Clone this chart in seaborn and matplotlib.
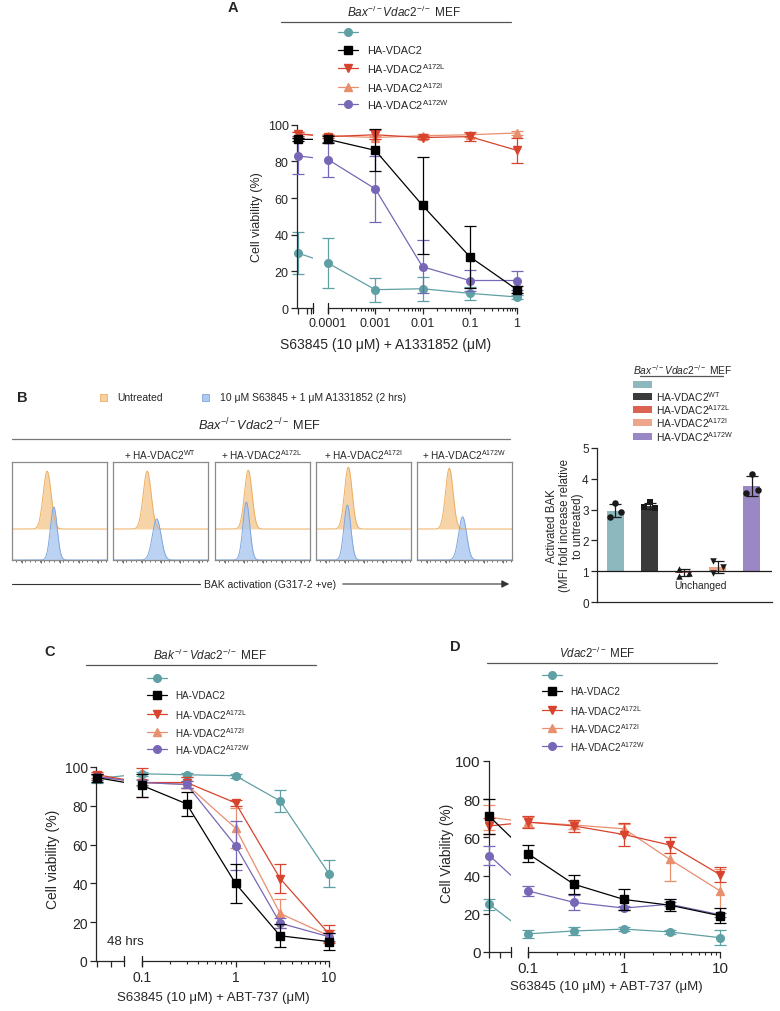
import numpy as np
import matplotlib
matplotlib.use('Agg')
import matplotlib.pyplot as plt
import matplotlib.transforms as mtransforms
import seaborn as sns
from matplotlib.lines import Line2D
from matplotlib.patches import Rectangle, FancyArrowPatch

# ---------------- data ----------------
# panel A: Bax-/-Vdac2-/- MEF, S63845 (10 uM) + A1331852
DOSE_A = [0, 0.0001, 0.001, 0.01, 0.1, 1]
A_EMPTY = [30, 24.5, 10, 10.5, 8, 6]
A_EMPTY_SD = [11.5, 13.5, 6.5, 6.5, 3.5, 1]
A_WT = [92, 92, 86, 56, 28, 10]
A_WT_SD = [1, 2, 11.5, 26.5, 17, 2]
A_L = [95, 93.5, 94.5, 93, 93.5, 86]
A_L_SD = [1, 1, 2.5, 1, 2.5, 7]
A_I = [95, 94, 93, 94, 94.5, 95.5]
A_I_SD = [1, 1, 1, 1, 1, 1]
A_W = [83, 81, 65, 22.5, 15, 15]
A_W_SD = [10, 9.5, 18, 14.5, 5.5, 5]

# panel C: Bak-/-Vdac2-/- MEF, S63845 (10 uM) + ABT-737
DOSE_C = [0, 0.1, 0.3, 1, 3, 10]
C_EMPTY = [94, 96.5, 96, 95.5, 82.5, 45]
C_EMPTY_SD = [2, 1, 1, 1, 5.5, 7]
C_WT = [94.5, 90.5, 81, 40, 13, 10]
C_WT_SD = [2, 6, 6, 10, 6, 4.5]
C_L = [96, 92, 92, 81.5, 42.5, 14]
C_L_SD = [1.5, 7.5, 3, 1.5, 7.5, 4.5]
C_I = [95, 92, 91, 68.5, 24.5, 13]
C_I_SD = [1.5, 2, 2, 10.5, 7.5, 3]
C_W = [95, 92, 91, 59.5, 19.5, 12.5]
C_W_SD = [1.5, 1.5, 2, 12.5, 2.5, 2]

# panel D: Vdac2-/- MEF
DOSE_D = [0, 0.1, 0.3, 1, 3, 10]
D_EMPTY = [25, 9.5, 11, 12, 10.5, 7.5]
D_EMPTY_SD = [3, 2, 2, 1, 1, 4]
D_WT = [71, 51.5, 35.5, 27.5, 24.5, 19]
D_WT_SD = [9, 4.5, 5, 5.5, 3, 4]
D_L = [66, 68, 66, 61.5, 56, 40.5]
D_L_SD = [4, 3, 3, 6, 4, 4]
D_I = [70.5, 68, 66.5, 64.5, 48.5, 32]
D_I_SD = [6.5, 2.5, 2, 2.5, 11.5, 11.5]
D_W = [50.5, 32, 26, 23, 25, 19.5]
D_W_SD = [5, 2.5, 4, 1, 1, 1]

# panel B bar chart: activated BAK fold increase, replicate values
BAR_EMPTY_PTS = [2.77, 3.20, 2.93]
BAR_WT_PTS = [3.08, 3.24, 3.05]
BAR_L_PTS = [1.07, 0.85, 0.93]
BAR_I_PTS = [1.33, 0.94, 1.14]
BAR_W_PTS = [3.54, 4.15, 3.64]

# panel B flow histograms (peak location / height / width, box fractions)
UNT_PEAK_POS = [0.37, 0.36, 0.35, 0.34, 0.34]
UNT_PEAK_HEIGHT = [0.59, 0.59, 0.60, 0.63, 0.62]
UNT_PEAK_WIDTH = [0.042, 0.042, 0.040, 0.040, 0.040]
TRT_PEAK_POS = [0.44, 0.46, 0.33, 0.33, 0.48]
TRT_PEAK_HEIGHT = [0.54, 0.42, 0.59, 0.56, 0.44]
TRT_PEAK_WIDTH = [0.036, 0.045, 0.036, 0.036, 0.042]

LABELS = ['', 'HA-VDAC2', r'HA-VDAC2$^{\mathregular{A172L}}$',
          r'HA-VDAC2$^{\mathregular{A172I}}$', r'HA-VDAC2$^{\mathregular{A172W}}$']
BAR_LABELS = ['', r'HA-VDAC2$^{\mathregular{WT}}$', r'HA-VDAC2$^{\mathregular{A172L}}$',
              r'HA-VDAC2$^{\mathregular{A172I}}$', r'HA-VDAC2$^{\mathregular{A172W}}$']
HIST_TITLES = ['', r'+ HA-VDAC2$^{\mathregular{WT}}$', r'+ HA-VDAC2$^{\mathregular{A172L}}$',
               r'+ HA-VDAC2$^{\mathregular{A172I}}$', r'+ HA-VDAC2$^{\mathregular{A172W}}$']

# ---------------- style ----------------
COLORS = ['#5FA0A5', '#000000', '#D8432E', '#E98F6E', '#7767B6']
BAR_COLORS = ['#8DB8BD', '#3B3B3B', '#DB6352', '#EDA68C', '#9A88C4']
MARKERS = ['o', 's', 'v', '^', 'o']
BAR_MARKERS = ['o', 's', '^', 'v', 'o']
DRAW_ORDER = [0, 3, 2, 4, 1]
JITTER = [[-0.16, 0.0, 0.16], [-0.17, 0.0, 0.17], [-0.15, -0.15, 0.17],
          [-0.15, -0.15, 0.15], [-0.17, 0.0, 0.17]]
ORANGE_FILL, ORANGE_EDGE = '#F6D2A2', '#EDAE62'
BLUE_FILL, BLUE_EDGE = '#AFCAF0', '#7FA6DD'

sns.set_theme(style='ticks')
plt.rcParams['font.family'] = ['Liberation Sans', 'DejaVu Sans']
plt.rcParams['mathtext.fontset'] = 'custom'
plt.rcParams['mathtext.rm'] = 'Liberation Sans'
plt.rcParams['mathtext.it'] = 'Liberation Sans:italic'
plt.rcParams['mathtext.bf'] = 'Liberation Sans:bold'
plt.rcParams['axes.linewidth'] = 0.9
plt.rcParams['xtick.major.width'] = 0.9
plt.rcParams['ytick.major.width'] = 0.9
plt.rcParams['xtick.minor.width'] = 0.8
plt.rcParams['xtick.major.size'] = 4
plt.rcParams['ytick.major.size'] = 4
plt.rcParams['xtick.minor.size'] = 2.5
plt.rcParams['xtick.major.pad'] = 2.5
plt.rcParams['ytick.major.pad'] = 2

W, H = 780, 1012
fig = plt.figure(figsize=(7.8, 10.12), dpi=100)


def box(x0, y0, x1, y1):
    return [x0 / W, 1 - y1 / H, (x1 - x0) / W, (y1 - y0) / H]


def ftext(x, y, s, **kw):
    kw.setdefault('ha', 'center')
    kw.setdefault('va', 'center')
    return fig.text(x / W, 1 - y / H, s, **kw)


def fline(x0, x1, y, color='#555555', lw=0.9):
    fig.add_artist(Line2D([x0 / W, x1 / W], [1 - y / H, 1 - y / H],
                          transform=fig.transFigure, color=color, lw=lw))


def line_legend(x0, x1, text_x, rows, fs):
    for i, y in enumerate(rows):
        yy = 1 - y / H
        fig.add_artist(Line2D([x0 / W, x1 / W], [yy, yy], transform=fig.transFigure,
                              color=COLORS[i], lw=0.9))
        fig.add_artist(Line2D([(x0 + x1) / 2 / W], [yy], transform=fig.transFigure,
                              color=COLORS[i], marker=MARKERS[i], ms=5.5, ls='none'))
        ftext(text_x, y, LABELS[i], ha='left', fontsize=fs)


def dose_panel(doses, means, sds, x_left, x_main, y_span, u_zero, fs_tick, minor_left):
    top, bottom = y_span
    nz = [d for d in doses if d > 0]
    lo, hi = np.log10(nz[0]), np.log10(nz[-1])
    dec = (x_main[1] - x_main[0]) / (hi - lo)
    u = np.array([u_zero if d == 0 else np.log10(d) for d in doses])
    lim_l = (lo - (x_main[0] - x_left[0]) / dec, lo - (x_main[0] - x_left[1]) / dec)
    ax_l = fig.add_axes(box(x_left[0], top, x_left[1], bottom))
    ax_m = fig.add_axes(box(x_main[0], top, x_main[1], bottom))
    for ax, lim in ((ax_l, lim_l), (ax_m, (lo, hi))):
        ax.set_xlim(lim)
        ax.set_ylim(0, 100)
        ax.set_facecolor('none')
        inside = (u >= lim[0] - 0.02) & (u <= lim[1] + 1e-6)
        for k, i in enumerate(DRAW_ORDER):
            m = np.array(means[i], dtype=float)
            s = np.array(sds[i], dtype=float)
            z = 2 + k
            ax.plot(u, m, color=COLORS[i], lw=0.9, zorder=z)
            eb = ax.errorbar(u[inside], m[inside], yerr=s[inside], fmt='none',
                             ecolor=COLORS[i], elinewidth=0.9, capsize=4,
                             capthick=0.9, zorder=z)
            for art in list(eb.lines[1]) + list(eb.lines[2]):
                art.set_clip_on(False)
            ax.plot(u[inside], m[inside], ls='none', marker=MARKERS[i], ms=5.5,
                    color=COLORS[i], clip_on=False, zorder=z + 0.5)
        sns.despine(ax=ax)
    # left segment: y axis
    ax_l.set_yticks([0, 20, 40, 60, 80, 100])
    ax_l.tick_params(axis='y', labelsize=fs_tick)
    ax_l.set_xticks([u_zero] + minor_left)
    ax_l.set_xticklabels([''] * (1 + len(minor_left)))
    # main segment: log decades
    ax_m.spines['left'].set_visible(False)
    ax_m.tick_params(axis='y', left=False, labelleft=False)
    decades = np.arange(int(round(lo)), int(round(hi)) + 1)
    ax_m.set_xticks(decades)
    ax_m.set_xticklabels(['%g' % (10.0 ** d) for d in decades], fontsize=fs_tick)
    minors = [np.log10(k * 10.0 ** d) for d in decades[:-1] for k in range(2, 10)]
    ax_m.set_xticks(minors, minor=True)
    # axis break marks
    for ax, xb in ((ax_l, lim_l[1]), (ax_m, lo)):
        tr = mtransforms.blended_transform_factory(ax.transData, ax.transAxes)
        ax.plot([xb, xb], [-0.028, 0.028], transform=tr, color='k', lw=0.9, clip_on=False)
    return ax_l, ax_m


# ---------------- panel A ----------------
ftext(233, 8, 'A', fontsize=10.5, fontweight='bold')
ftext(404, 12, r'$\mathit{Bax}^{-/-}\mathit{Vdac2}^{-/-}$ MEF', fontsize=8.5)
fline(281, 511, 23)
line_legend(338, 358, 367, [33, 51, 69, 88, 105], 7.8)
dose_panel(DOSE_A, [A_EMPTY, A_WT, A_L, A_I, A_W],
           [A_EMPTY_SD, A_WT_SD, A_L_SD, A_I_SD, A_W_SD],
           (297, 313), (328, 517), (125.7, 309), -4.64, 9, [-4.44, -4.36])
ftext(257, 217, 'Cell viability (%)', rotation=90, fontsize=9)
ftext(386, 345, 'S63845 (10 μM) + A1331852 (μM)', fontsize=10)

# ---------------- panel B histograms ----------------
ftext(22, 398, 'B', fontsize=10.5, fontweight='bold')
fig.add_artist(Rectangle(((103 - 3.5) / W, 1 - (398 + 3.5) / H), 7 / W, 7 / H,
                         transform=fig.transFigure, facecolor=ORANGE_FILL,
                         edgecolor=ORANGE_EDGE, lw=0.6))
ftext(117, 398, 'Untreated', ha='left', fontsize=7.5)
fig.add_artist(Rectangle(((205 - 3.5) / W, 1 - (398 + 3.5) / H), 7 / W, 7 / H,
                         transform=fig.transFigure, facecolor=BLUE_FILL,
                         edgecolor=BLUE_EDGE, lw=0.6))
ftext(220, 398, '10 μM S63845 + 1 μM A1331852 (2 hrs)', ha='left', fontsize=7.5)
ftext(260, 425, r'$\mathit{Bax}^{-/-}\mathit{Vdac2}^{-/-}$ MEF', fontsize=9.2)
fline(12, 510, 440, color='#777777')

HIST_X = [12, 113, 215, 316, 417]
grid = np.linspace(0, 1, 500)
base = 0.316
for i, x0 in enumerate(HIST_X):
    axh = fig.add_axes(box(x0, 463, x0 + 95, 561))
    axh.set_xlim(0, 1)
    axh.set_ylim(0, 1)
    unt = base + UNT_PEAK_HEIGHT[i] * np.exp(-0.5 * ((grid - UNT_PEAK_POS[i]) / UNT_PEAK_WIDTH[i]) ** 2)
    trt = TRT_PEAK_HEIGHT[i] * np.exp(-0.5 * ((grid - TRT_PEAK_POS[i]) / TRT_PEAK_WIDTH[i]) ** 2)
    axh.fill_between(grid, base, unt, color=ORANGE_FILL, alpha=0.95, lw=0)
    axh.plot(grid, unt, color=ORANGE_EDGE, lw=0.7)
    axh.fill_between(grid, 0, trt, color=BLUE_FILL, alpha=0.85, lw=0)
    axh.plot(grid, trt, color=BLUE_EDGE, lw=0.7)
    for sp in axh.spines.values():
        sp.set_color('#8A8A8A')
        sp.set_linewidth(0.9)
    axh.set_yticks([])
    axh.set_xticks([0.1, 0.3, 0.5, 0.7, 0.9])
    axh.set_xticks(np.arange(0.04, 1.0, 0.05), minor=True)
    axh.tick_params(axis='x', which='both', labelbottom=False, color='#555555',
                    length=2, width=0.6)
    axh.tick_params(axis='x', which='minor', length=1.2)
    ftext(x0 + 47, 455, HIST_TITLES[i], fontsize=7.2)

fline(12, 200, 585, color='#333333', lw=0.8)
ftext(270, 585, 'BAK activation (G317-2 +ve)', fontsize=7.5)
fig.add_artist(FancyArrowPatch((340 / W, 1 - 585 / H), (512 / W, 1 - 585 / H),
                               transform=fig.transFigure, arrowstyle='-|>',
                               mutation_scale=11, color='#333333', lw=0.8))

# ---------------- panel B bar chart ----------------
ftext(683, 370, r'$\mathit{Bax}^{-/-}\mathit{Vdac2}^{-/-}$ MEF', fontsize=7.4)
fline(640, 723, 377)
for i, y in enumerate([385, 397, 410, 423, 437]):
    fig.add_artist(Rectangle((633 / W, 1 - (y + 3.5) / H), 19 / W, 7 / H,
                             transform=fig.transFigure, facecolor=BAR_COLORS[i], lw=0))
    ftext(656, y, BAR_LABELS[i], ha='left', fontsize=7.4)

axb = fig.add_axes(box(597, 449, 772, 603))
groups = [BAR_EMPTY_PTS, BAR_WT_PTS, BAR_L_PTS, BAR_I_PTS, BAR_W_PTS]
for i, pts in enumerate(groups):
    pts = np.array(pts)
    mean, sd = pts.mean(), pts.std(ddof=1)
    axb.bar(i, mean - 1, bottom=1, width=0.5, color=BAR_COLORS[i], lw=0, zorder=2)
    axb.errorbar(i, mean, yerr=sd, fmt='none', ecolor='k', elinewidth=0.9,
                 capsize=4, capthick=0.9, zorder=3)
    axb.scatter(i + np.array(JITTER[i]), pts, marker=BAR_MARKERS[i], s=22,
                color='k', zorder=4, linewidths=0)
axb.axhline(1, color='k', lw=0.9, zorder=5)
axb.set_xlim(-0.54, 4.59)
axb.set_ylim(0, 5)
axb.set_yticks([0, 1, 2, 3, 4, 5])
axb.tick_params(axis='y', labelsize=8.5)
axb.set_xticks([])
sns.despine(ax=axb)
axb.text(2.48, 0.55, 'Unchanged', ha='center', va='center', fontsize=7.4)
axb.set_ylabel('Activated BAK\n(MFI fold increase relative\nto untreated)',
               fontsize=8.3, linespacing=1.1)
axb.yaxis.set_label_coords(-0.075, 0.5)

# ---------------- panel C ----------------
ftext(50, 652, 'C', fontsize=10.5, fontweight='bold')
ftext(210, 655, r'$\mathit{Bak}^{-/-}\mathit{Vdac2}^{-/-}$ MEF', fontsize=8.5)
fline(86, 316, 666)
line_legend(147, 167, 175, [679, 696, 715, 733, 750], 7.1)
dose_panel(DOSE_C, [C_EMPTY, C_WT, C_L, C_I, C_W],
           [C_EMPTY_SD, C_WT_SD, C_L_SD, C_I_SD, C_W_SD],
           (96, 124), (142, 329), (768, 962), -1.48, 10, [-1.33])
ftext(53, 859, 'Cell viability (%)', rotation=90, fontsize=10)
ftext(213, 998, 'S63845 (10 μM) + ABT-737 (μM)', fontsize=9.5)
ftext(107, 942, '48 hrs', ha='left', fontsize=9.5)

# ---------------- panel D ----------------
ftext(455, 647, 'D', fontsize=10.5, fontweight='bold')
ftext(597, 653, r'$\mathit{Vdac2}^{-/-}$ MEF', fontsize=8.3)
fline(487, 717, 664)
line_legend(542, 562, 570, [676, 692, 711, 729, 747], 7.1)
dose_panel(DOSE_D, [D_EMPTY, D_WT, D_L, D_I, D_W],
           [D_EMPTY_SD, D_WT_SD, D_L_SD, D_I_SD, D_W_SD],
           (489, 511), (528, 720), (762, 953), -1.403, 11, [-1.29])
ftext(447, 853, 'Cell Viability (%)', rotation=90, fontsize=9.8)
ftext(606, 987, 'S63845 (10 μM) + ABT-737 (μM)', fontsize=9.5)

fig.savefig('out.png', dpi=100, facecolor='white')
